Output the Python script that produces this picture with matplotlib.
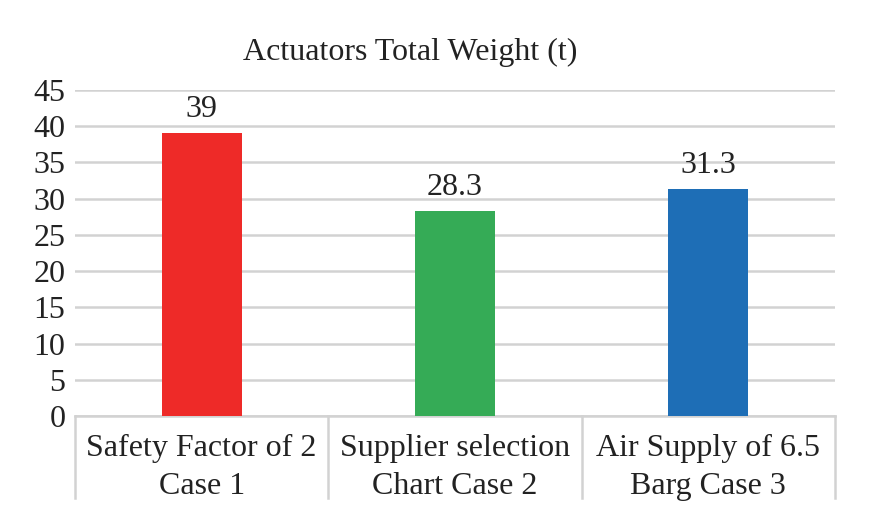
import matplotlib.pyplot as plt
import numpy as np

categories = ['Safety Factor of 2\nCase 1', 'Supplier selection\nChart Case 2', 'Air Supply of 6.5\nBarg Case 3']
weights = [39, 28.3, 31.3]
value_labels = ['39', '28.3', '31.3']
bar_colors = ['#EE2A28', '#35AB56', '#1E6EB6']

plt.rcParams['font.family'] = ['Liberation Serif', 'DejaVu Serif']

fig = plt.figure(figsize=(8.78, 5.16), dpi=100)
ax = fig.add_axes([75 / 878, 1 - 416 / 516, (835 - 75) / 878, (416 - 90) / 516])

x = np.arange(len(categories))
ax.bar(x, weights, width=0.315, color=bar_colors, zorder=3)

for xi, v, lab in zip(x, weights, value_labels):
    ax.text(xi, v + 1.3, lab, ha='center', va='bottom', fontsize=23, color='#222222')

ax.set_xlim(-0.5, len(categories) - 0.5)
ax.set_ylim(0, 45)
ax.set_yticks(range(0, 46, 5))
ax.yaxis.grid(True, color='#D2D2D2', linewidth=1.8, zorder=0)
ax.set_axisbelow(True)
for s in ['top', 'right', 'left']:
    ax.spines[s].set_visible(False)
ax.spines['bottom'].set_color('#D2D2D2')
ax.spines['bottom'].set_linewidth(1.8)
ax.tick_params(axis='y', length=0, labelsize=23, pad=7, colors='#222222')
ax.tick_params(axis='x', length=0)
ax.set_xticks([])

# category labels and separators below the axis
for xi, cat in zip(x, categories):
    ax.text(xi, -0.055, cat, transform=ax.get_xaxis_transform(), ha='center', va='top',
            fontsize=23, color='#222222', linespacing=1.42)
for b in np.arange(-0.5, len(categories), 1.0):
    ax.plot([b, b], [0, -0.25], transform=ax.get_xaxis_transform(), color='#D2D2D2',
            linewidth=1.8, clip_on=False)

fig.text(0.4675, 1 - 52 / 516, 'Actuators Total Weight (t)', ha='center', va='center',
         fontsize=23, color='#222222')

fig.savefig('out.png', dpi=100)
